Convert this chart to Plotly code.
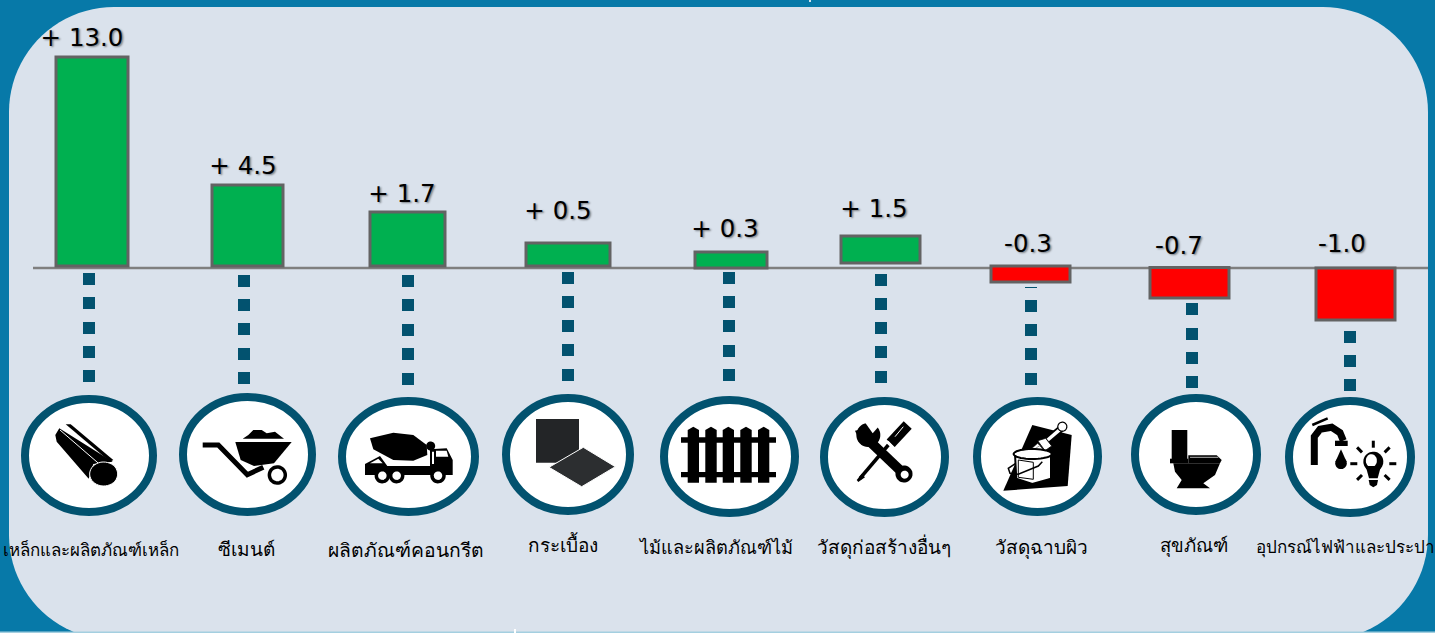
import numpy as np
import plotly.graph_objects as go

# ---------- data ----------
categories = ["เหล็กและผลิตภัณฑ์เหล็ก", "ซีเมนต์", "ผลิตภัณฑ์คอนกรีต", "กระเบื้อง", "ไม้และผลิตภัณฑ์ไม้",
              "วัสดุก่อสร้างอื่นๆ", "วัสดุฉาบผิว", "สุขภัณฑ์", "อุปกรณ์ไฟฟ้าและประปา"]
value_labels = ["+ 13.0", "+ 4.5", "+ 1.7", "+ 0.5", "+ 0.3", "+ 1.5", "-0.3", "-0.7", "-1.0"]
# bar lengths as drawn in the picture (not to scale with the printed values)
drawn_lengths = [209, 81, 54, 23, 16, 27, -16, -30.5, -52]

# ---------- layout helpers (pixel placement of the infographic) ----------
bar_offset = [2, 2, 2, 2, 0, 5, 2, 0.5, 0]
bar_x = [92, 247.5, 407.5, 568, 731, 880.5, 1030.5, 1189.5, 1355.5]
bar_w = [72, 71, 75, 84, 72, 79, 79, 79, 79]
label_x = [82, 243, 402, 558, 725, 874, 1028, 1179, 1342]
label_y = [39.5, 167.5, 195.5, 212.5, 230.5, 210.5, 245.5, 247.5, 245.5]
cat_x = [91, 246, 406, 563, 716, 884, 1041, 1194, 1345]
cat_y = [552, 551, 552, 547.5, 549, 549, 549, 547, 549]
cat_size = [16.9, 19, 19.3, 19, 18.2, 19, 19, 18.5, 17]
dot_x = [89, 244, 408, 568, 729, 881, 1031, 1192, 1350]
dot_y = [[279, 303, 328, 352, 376], [281, 305, 329, 354, 378], [281, 305, 330, 354, 379],
         [278, 302, 326, 350, 375], [278, 302, 326, 351, 375], [280, 304, 328, 352, 377],
         [306, 330, 354, 379], [309, 334, 358, 382], [337, 361, 385]]
ring_box = [(21, 157, 395, 516), (179, 316, 393, 516), (338, 479, 397, 516), (502, 634, 394, 515),
            (660, 799, 396, 517), (820, 949, 397, 517), (973, 1102, 397, 516), (1131, 1261, 394, 515),
            (1285, 1415, 397, 517)]

OUTER = "#0779a8"
PANEL = "#dae2ec"
RING = "#02526f"
W, H, ZERO = 1435, 633, 268

shapes = []


def path_of(pts, close=True):
    return "M " + " L ".join(f"{x:.1f},{y:.1f}" for x, y in pts) + (" Z" if close else "")


def add(pts, fill="#000000", lc=None, lw=0, close=True, layer="above"):
    shapes.append(dict(type="path", path=path_of(pts, close), xref="x", yref="y2", layer=layer,
                       fillcolor=fill if close else "rgba(0,0,0,0)",
                       line=dict(color=lc or "rgba(0,0,0,0)", width=lw)))


def zoomed(ox, oy, pts):
    return [(ox + x / 3, oy + y / 3) for x, y in pts]


def ell(cx, cy, rx, ry=None, a0=0, a1=360, n=40):
    ry = rx if ry is None else ry
    t = np.radians(np.linspace(a0, a1, n))
    return list(zip(cx + rx * np.cos(t), cy + ry * np.sin(t)))


# rounded panel (paper coordinates so it lies beneath everything)
def panel_path(x0, x1, y0, y1, r):
    pts = []
    for cx, cy, a0 in ((x1 - r, y0 + r, -90), (x1 - r, y1 - r, 0), (x0 + r, y1 - r, 90), (x0 + r, y0 + r, 180)):
        pts += ell(cx, cy, r, r, a0, a0 + 90, 24)
    return "M " + " L ".join(f"{x / W:.5f},{1 - y / H:.5f}" for x, y in pts) + " Z"


shapes.append(dict(type="path", path=panel_path(9, 1428, 7, 640, 105), xref="paper", yref="paper",
                   layer="below", fillcolor=PANEL, line=dict(width=0)))
shapes.append(dict(type="line", x0=0, x1=1, y0=0.0012, y1=0.0012, xref="paper", yref="paper", layer="below",
                   line=dict(color="#a4cfe0", width=1.5)))
# axis line
shapes.append(dict(type="line", x0=33, x1=1428, y0=0, y1=0, xref="x", yref="y", layer="below",
                   line=dict(color="#7f7f7f", width=2.5)))
# little marks at the page edges
add([(809, 0), (811, 0), (811, 2), (809, 2)], fill="#cfe3ee")
add([(514, 629), (516, 629), (516, 633), (514, 633)], fill="#ffffff")
# stray dash above the dotted line of the seventh column
add([(1025, 287), (1037, 287), (1037, 288), (1025, 288)], fill=RING)

# rings
for x0, x1, y0, y1 in ring_box:
    shapes.append(dict(type="circle", x0=x0 + 4, x1=x1 - 4, y0=y0 + 4, y1=y1 - 4, xref="x", yref="y2",
                       layer="above", fillcolor="#ffffff", line=dict(color=RING, width=8)))

# ---------- icons ----------
# 1 pipe
Z = lambda p: zoomed(0, 380, p)
add(Z([(166, 165), (178, 145), (338, 245), (280, 252), (266, 296), (170, 185)]))
add(Z([(197, 133), (212, 133), (340, 240), (330, 245)]))
add(Z([(180, 150), (298, 252)]), close=False, lc="#ffffff", lw=1)
add(ell(*Z([(311, 282)])[0], 14, 12), lc="#ffffff", lw=1)

# 2 wheelbarrow
add(Z([(706, 186), (875, 186), (822, 250), (762, 258), (722, 240)]))
add(Z([(728, 176), (745, 165), (760, 150), (785, 150), (800, 160), (825, 155), (852, 176)]))
add(Z([(608, 195), (655, 195), (742, 284), (790, 262)]), close=False, lc="#000000", lw=5)
add(ell(*Z([(832, 285)])[0], 8), fill="#ffffff", lc="#000000", lw=3.5)

# 3 mixer truck
add(Z([(1110, 175), (1180, 158), (1240, 165), (1280, 195), (1282, 225), (1240, 242), (1180, 240), (1120, 208)]))
add(ell(*Z([(1292, 198)])[0], 4.5))
add(Z([(1095, 252), (1140, 228), (1162, 258), (1290, 258), (1290, 208), (1340, 205), (1358, 240), (1358, 285),
       (1095, 285)]))
add(Z([(1308, 212), (1340, 212), (1345, 230), (1308, 230)]), fill="#ffffff")
add(Z([(1296, 215), (1302, 215), (1302, 252), (1296, 252)]), fill="#ffffff")
add(Z([(1110, 250), (1135, 236), (1148, 250)]), fill="#ffffff")
for cx in (1147, 1190, 1314):
    add(ell(*Z([(cx, 287)])[0], 6), fill="#ffffff", lc="#000000", lw=3.5)

# 4 tiles
Z = lambda p: zoomed(480, 380, p)
add(Z([(168, 117), (297, 117), (297, 248), (168, 248)]), fill="#232527")
add(Z([(207, 262), (310, 202), (406, 260), (305, 320)]), fill="#2c2e30", lc="#ffffff", lw=1)

# 5 fence
for cx in (640, 693, 745, 798, 851):
    add(Z([(cx - 17, 150), (cx, 140), (cx + 17, 150), (cx + 17, 308), (cx - 17, 308)]))
add(Z([(603, 172), (888, 172), (888, 188), (603, 188)]))
add(Z([(603, 276), (888, 276), (888, 292), (603, 292)]))

# 6 tools
add(Z([(1165, 180), (1272, 282)]), close=False, lc="#000000", lw=10)
add(ell(*Z([(1272, 282)])[0], 8.5))
add(ell(*Z([(1274, 284)])[0], 4), fill="#ffffff")
add(ell(*Z([(1165, 165)])[0], 12))
add(Z([(1150, 120), (1178, 160), (1200, 135), (1195, 115)]), fill="#ffffff")
add(Z([(1135, 150), (1125, 152), (1145, 195), (1165, 175)]))
add(Z([(1283, 135), (1232, 190)]), close=False, lc="#000000", lw=11)
add(Z([(1270, 140), (1245, 170)]), close=False, lc="#ffffff", lw=1)
add(Z([(1232, 190), (1215, 205)]), close=False, lc="#ffffff", lw=7)
add(Z([(1225, 195), (1140, 295)]), close=False, lc="#000000", lw=3.5)
add(Z([(1145, 282), (1155, 292), (1135, 306), (1130, 300)]))

# 7 paint
Z = lambda p: zoomed(955, 380, p)
add(Z([(232, 135), (350, 165), (338, 318), (145, 332)]))
add(Z([(275, 182), (325, 140)]), close=False, lc="#000000", lw=7)
add(Z([(278, 180), (325, 140)]), close=False, lc="#ffffff", lw=3.5)
add(ell(*Z([(322, 140)])[0], 4.5), fill="#ffffff", lc="#000000", lw=1.2)
add(Z([(248, 182), (272, 175), (290, 198), (270, 212)]), fill="#ffffff", lc="#000000", lw=0.8)
add(Z([(218, 216), (248, 190), (268, 212), (245, 224)]), fill="#ffffff", lc="#000000", lw=0.5)
add(Z([(228, 214), (256, 196)]), close=False, lc="#9a9a9a", lw=1)
add(Z([(180, 222), (288, 222), (288, 296), (232, 312), (184, 296)]), fill="#ffffff", lc="#000000", lw=2)
add(Z([(190, 240), (235, 247), (235, 298), (190, 292)]), fill="#ffffff", lc="#000000", lw=1)
add(ell(*Z([(233, 222)])[0], 19, 5), fill="#ffffff", lc="#000000", lw=2)
add(Z([(182, 250), (160, 265), (165, 280), (190, 283), (250, 258), (262, 245)]), close=False, lc="#000000", lw=1.5)

# 8 toilet
add(Z([(650, 150), (697, 150), (697, 240), (650, 240)]))
add(Z([(645, 236), (700, 236), (700, 250), (645, 250)]))
add(Z([(700, 226), (785, 226), (800, 240), (795, 250), (700, 250)]))
add(Z([(655, 250), (795, 250), (780, 285), (745, 310), (765, 325), (665, 325), (680, 300), (660, 275)]))
add(Z([(705, 232), (790, 232)]), close=False, lc="#ffffff", lw=0.7)

# 9 tap and bulb
add(Z([(1078, 255), (1078, 170), (1095, 148), (1130, 142), (1155, 158), (1165, 182)]), close=False,
    lc="#000000", lw=7)
add(Z([(1072, 135), (1118, 115)]), close=False, lc="#000000", lw=2.5)
add(Z([(1140, 182), (1178, 182), (1178, 198), (1140, 198)]))
add(ell(*Z([(1158, 250)])[0], 5.8))
add(Z([(1158, 208), (1141, 246), (1175, 246)]))
bulb = Z([(1255, 245)])[0]
add(ell(bulb[0], bulb[1], 10), fill="#000000")
add(ell(bulb[0] - 2, bulb[1] - 1, 5.5, 6.5), fill="#ffffff")
add(Z([(1232, 258), (1278, 258), (1268, 295), (1242, 295)]))
add(Z([(1241, 300), (1269, 300), (1266, 315), (1255, 322), (1244, 315)]))
for a in (-90, -45, -135, 0, 180, 45, 135):
    ca, sa = np.cos(np.radians(a)), np.sin(np.radians(a))
    add([(bulb[0] + 16 * ca, bulb[1] + 2 + 16 * sa), (bulb[0] + 23 * ca, bulb[1] + 2 + 23 * sa)], close=False,
        lc="#000000", lw=3)

# ---------- traces ----------
fig = go.Figure()
fig.add_trace(go.Bar(x=bar_x, y=drawn_lengths, base=bar_offset, width=bar_w, yaxis="y",
                     marker=dict(color=["#00b050" if v > 0 else "#ff0000" for v in drawn_lengths],
                                 line=dict(color="#636363", width=3)),
                     hoverinfo="skip"))
xs = [x for x, col in zip(dot_x, dot_y) for _ in col]
ys = [y for col in dot_y for y in col]
fig.add_trace(go.Scatter(x=xs, y=ys, yaxis="y2", mode="markers", hoverinfo="skip",
                         marker=dict(symbol="square", size=12, color=RING, line=dict(width=0))))
fig.add_trace(go.Scatter(x=label_x, y=label_y, yaxis="y2", mode="text", text=value_labels, hoverinfo="skip",
                         textposition="middle center",
                         textfont=dict(family="DejaVu Sans", size=24.5, color="#000000",
                                       shadow="1.5px 1.5px 2px rgba(0,0,0,0.45)")))
fig.add_trace(go.Scatter(x=cat_x, y=cat_y, yaxis="y2", mode="text", text=categories, hoverinfo="skip",
                         textposition="middle center",
                         textfont=dict(family="Noto Sans, sans-serif", size=cat_size, color="#000000")))

fig.update_layout(
    width=W, height=H, autosize=False, showlegend=False,
    margin=dict(l=0, r=0, t=0, b=0, pad=0),
    paper_bgcolor=OUTER, plot_bgcolor="rgba(0,0,0,0)",
    barmode="overlay",
    xaxis=dict(range=[0, W], visible=False, fixedrange=True),
    yaxis=dict(range=[ZERO - H, ZERO], visible=False, fixedrange=True),
    yaxis2=dict(range=[H, 0], visible=False, overlaying="y", fixedrange=True),
    shapes=shapes,
)
fig.write_html("out.html", config=dict(displayModeBar=False),
               post_script="document.body.style.margin='0';document.documentElement.style.overflow='hidden';")
